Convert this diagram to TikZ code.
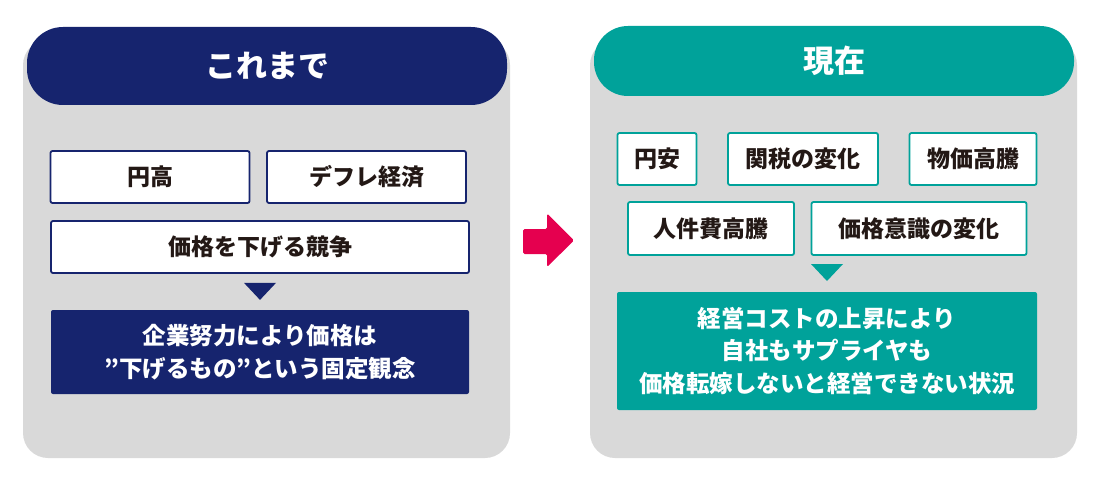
\documentclass[tikz,border=0pt]{standalone}
\usepackage{fontspec}
\usetikzlibrary{calc}
\newfontfamily\jpfont{Noto Sans CJK JP}
\definecolor{navy_dark}{RGB}{22,36,110}
\definecolor{teal_main}{RGB}{0,162,154}
\definecolor{panel_gray}{RGB}{217,217,217}
\definecolor{arrow_red}{RGB}{229,0,79}
\definecolor{text_dark}{RGB}{35,24,21}

\begin{document}
\begin{tikzpicture}[x=1pt,y=-1pt]
    \tikzstyle{head}=[rectangle, inner sep=0pt, text=white, font=\jpfont\bfseries\fontsize{31}{36}\selectfont]
    \tikzstyle{box}=[rectangle, rounded corners=2pt, inner sep=0pt, line width=1.8pt, fill=white, text=text_dark, align=center, font=\jpfont\bfseries\fontsize{23}{32}\selectfont, minimum height=52pt]
    \tikzstyle{navybox}=[style=box, draw=navy_dark]
    \tikzstyle{tealbox}=[style=box, draw=teal_main]
    \tikzstyle{result}=[style=box, line width=0pt, text=white, font=\jpfont\bfseries\fontsize{23.5}{32.5}\selectfont]

    \useasboundingbox (0,0) rectangle (1100,484);

    % gray panels
    \fill[panel_gray, rounded corners=25pt] (23,40) rectangle (510,458);
    \fill[panel_gray, rounded corners=25pt] (590,40) rectangle (1077,458);

    % left: これまで
    \node[head, fill=navy_dark, rounded corners=36pt, minimum width=480pt, minimum height=78pt] (headL) at (267,66) {これまで};
    \node[navybox, minimum width=199pt] (yendaka) at (150,177)   {円高};
    \node[navybox, minimum width=199pt] (deflation) at (366.5,177) {デフレ経済};
    \node[navybox, minimum width=418pt] (compete) at (260,247)   {価格を下げる競争};
    \node[result, fill=navy_dark, minimum width=418pt, minimum height=84pt] (belief) at (260,352)
        {企業努力により価格は\\”下げるもの”という固定観念};
    \fill[navy_dark] ($(compete.south)+(-16,9)$) -- ++(32,0) -- ++(-16,17) -- cycle;

    % arrow between panels
    \fill[arrow_red, rounded corners=1.5pt] (523,229) -- (547,229) -- (547,213.5) -- (574,240.5)
        -- (547,267) -- (547,254) -- (523,254) -- cycle;

    % right: 現在
    \node[head, fill=teal_main, rounded corners=34pt, minimum width=480pt, minimum height=70pt] (headR) at (834,61) {現在};
    \node[tealbox, minimum width=79pt]  (yenyasu) at (657,159)  {円安};
    \node[tealbox, minimum width=150pt] (tariff) at (803,159)   {関税の変化};
    \node[tealbox, minimum width=127pt] (prices) at (973,159)   {物価高騰};
    \node[tealbox, minimum width=166pt, minimum height=53pt] (labor) at (711,228.5) {人件費高騰};
    \node[tealbox, minimum width=215pt, minimum height=53pt] (awareness) at (919,228.5) {価格意識の変化};
    \node[result, fill=teal_main, minimum width=420pt, minimum height=118pt] (situation) at (827,351)
        {経営コストの上昇により\\自社もサプライヤも\\価格転嫁しないと経営できない状況};
    \fill[teal_main] ($(situation.north)+(-16,-28)$) -- ++(32,0) -- ++(-16,17) -- cycle;
\end{tikzpicture}
\end{document}
